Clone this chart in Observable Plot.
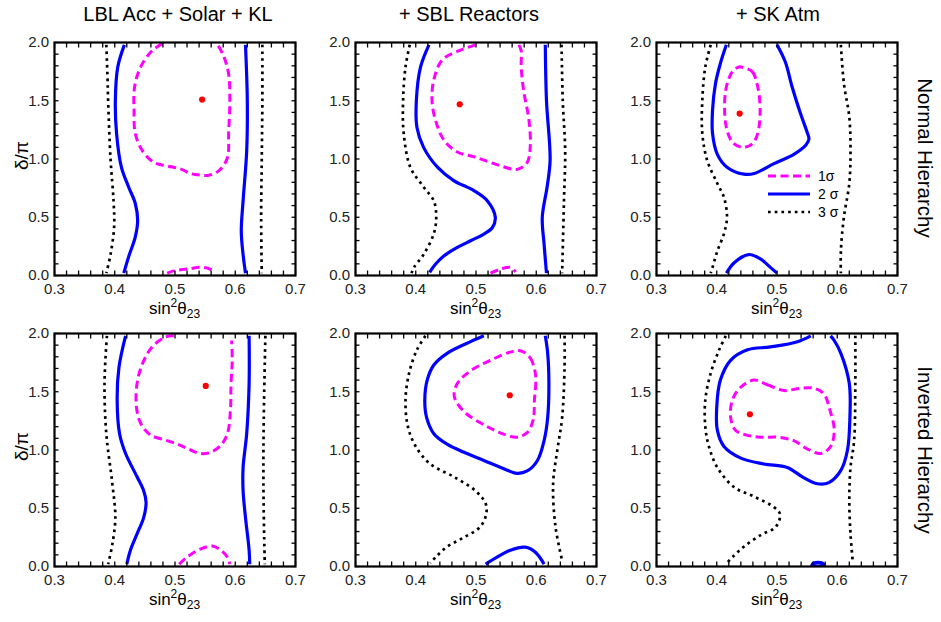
<!DOCTYPE html>
<html><head><meta charset="utf-8">
<script src="https://cdn.jsdelivr.net/npm/d3@7"></script>
<script src="https://cdn.jsdelivr.net/npm/@observablehq/plot@0.6"></script>
<style>
body{margin:0;background:#fff;}
#root{position:relative;width:941px;height:622px;overflow:hidden;background:#fff;font-family:"Liberation Sans",Arial,sans-serif;}
#root > svg, #root > figure{position:absolute;margin:0;}
#root g[aria-label$="tick-label"], #root g[aria-label$="tick-label"] text{font-size:15px !important;font-family:"Liberation Sans",Arial,sans-serif !important;}
</style></head>
<body><div id="root"></div>
<script>
// ---------- tick labels ----------
const xMajorTicks = [0.3, 0.4, 0.5, 0.6, 0.7];
const yMajorTicks = [0.0, 0.5, 1.0, 1.5, 2.0];
const xMinorStep = 0.02, yMinorStep = 0.1;
const colTitles = ["LBL Acc + Solar + KL", "+ SBL Reactors", "+ SK Atm"];
const rowTitles = ["Normal Hierarchy", "Inverted Hierarchy"];
const legendLabels = ["1σ", "2 σ", "3 σ"];

// ---------- Normal hierarchy, LBL Acc + Solar + KL ----------
const nh1_3s_left = [[0.386,1.98],[0.388,1.7],[0.389,1.5],[0.393,1.0],[0.398,0.64],[0.399,0.42],[0.393,0.18],[0.386,0.02]];
const nh1_3s_right = [[0.645,1.98],[0.645,1.5],[0.644,1.0],[0.643,0.5],[0.644,0.02]];
const nh1_2s_left = [[0.416,1.98],[0.405,1.79],[0.401,1.5],[0.403,1.22],[0.411,0.93],[0.423,0.76],[0.434,0.62],[0.438,0.47],[0.434,0.33],[0.423,0.16],[0.415,0.02]];
const nh1_2s_right = [[0.617,1.98],[0.620,1.5],[0.619,1.07],[0.613,0.64],[0.610,0.38],[0.613,0.18],[0.617,0.02]];
const nh1_1s_top = [[0.479,1.99],[0.462,1.93],[0.443,1.79],[0.433,1.62],[0.432,1.41],[0.434,1.22],[0.446,1.07],[0.465,0.97],[0.487,0.94],[0.509,0.915],[0.526,0.875],[0.542,0.862],[0.556,0.86],[0.573,0.90],[0.587,1.01],[0.589,1.22],[0.591,1.5],[0.589,1.73],[0.581,1.88],[0.570,1.99]];
const nh1_1s_bot = [[0.487,0.02],[0.498,0.04],[0.520,0.055],[0.542,0.07],[0.553,0.065],[0.567,0.03]];
const nh1_best = [0.545, 1.51];

// ---------- Normal hierarchy, + SBL Reactors ----------
const nh2_3s_left = [[0.390,1.98],[0.383,1.79],[0.379,1.5],[0.380,1.22],[0.391,0.93],[0.413,0.76],[0.430,0.64],[0.434,0.5],[0.430,0.36],[0.413,0.18],[0.397,0.07],[0.393,0.02]];
const nh2_3s_right = [[0.642,1.98],[0.644,1.5],[0.648,1.07],[0.646,0.64],[0.643,0.02]];
const nh2_2s_left = [[0.422,1.98],[0.408,1.79],[0.401,1.5],[0.402,1.27],[0.413,1.10],[0.436,0.93],[0.463,0.815],[0.496,0.73],[0.519,0.64],[0.532,0.5],[0.527,0.41],[0.513,0.356],[0.491,0.298],[0.469,0.241],[0.447,0.169],[0.433,0.098],[0.423,0.026]];
const nh2_2s_right = [[0.615,1.98],[0.617,1.5],[0.623,0.99],[0.618,0.76],[0.610,0.5],[0.613,0.27],[0.617,0.02]];
const nh2_1s_top = [[0.499,1.98],[0.472,1.93],[0.444,1.85],[0.430,1.68],[0.427,1.5],[0.433,1.33],[0.447,1.16],[0.469,1.06],[0.496,1.02],[0.530,0.96],[0.563,0.91],[0.571,0.915],[0.585,0.97],[0.590,1.10],[0.588,1.33],[0.579,1.59],[0.575,1.79],[0.575,1.93],[0.571,1.98]];
const nh2_1s_bot = [[0.524,0.02],[0.541,0.055],[0.557,0.07],[0.566,0.03]];
const nh2_best = [0.473, 1.47];

// ---------- Normal hierarchy, + SK Atm ----------
const nh3_3s_left = [[0.390,1.98],[0.381,1.79],[0.376,1.5],[0.376,1.22],[0.384,0.99],[0.401,0.79],[0.412,0.67],[0.417,0.5],[0.412,0.36],[0.401,0.21],[0.393,0.07],[0.390,0.02]];
const nh3_3s_right = [[0.606,1.98],[0.611,1.65],[0.620,1.36],[0.622,1.07],[0.620,0.79],[0.611,0.5],[0.606,0.21],[0.606,0.02]];
const nh3_2s_top = [[0.416,1.98],[0.406,1.82],[0.398,1.65],[0.393,1.42],[0.393,1.22],[0.401,1.04],[0.417,0.93],[0.445,0.87],[0.462,0.875],[0.495,0.96],[0.528,1.04],[0.548,1.12],[0.553,1.17],[0.550,1.23],[0.539,1.39],[0.525,1.62],[0.514,1.83],[0.500,1.98]];
const nh3_2s_bot = [[0.416,0.02],[0.429,0.11],[0.453,0.18],[0.473,0.14],[0.489,0.07],[0.500,0.02]];
const nh3_1s = [[0.444,1.785],[0.459,1.75],[0.468,1.62],[0.472,1.42],[0.468,1.22],[0.459,1.13],[0.442,1.10],[0.426,1.145],[0.416,1.27],[0.413,1.45],[0.416,1.62],[0.426,1.75],[0.437,1.79]];
const nh3_best = [0.438, 1.39];

// ---------- Inverted hierarchy, LBL Acc + Solar + KL ----------
const ih1_3s_left = [[0.387,1.98],[0.383,1.57],[0.386,1.14],[0.396,0.71],[0.401,0.42],[0.396,0.19],[0.389,0.02]];
const ih1_3s_right = [[0.650,1.98],[0.647,1.14],[0.647,0.57],[0.649,0.02]];
const ih1_2s_left = [[0.418,1.98],[0.407,1.71],[0.404,1.43],[0.408,1.14],[0.418,0.97],[0.437,0.77],[0.448,0.65],[0.452,0.55],[0.448,0.42],[0.437,0.28],[0.426,0.14],[0.420,0.02]];
const ih1_2s_right = [[0.623,1.98],[0.623,1.57],[0.619,1.14],[0.613,0.85],[0.613,0.65],[0.617,0.42],[0.623,0.14],[0.624,0.02]];
const ih1_1s_top = [[0.498,1.98],[0.484,1.97],[0.462,1.885],[0.446,1.74],[0.437,1.57],[0.436,1.37],[0.443,1.23],[0.459,1.13],[0.487,1.08],[0.509,1.04],[0.526,1.00],[0.542,0.97],[0.559,0.98],[0.576,1.04],[0.587,1.14],[0.592,1.34],[0.593,1.57],[0.595,1.77],[0.594,1.94]];
const ih1_1s_bot = [[0.507,0.02],[0.520,0.08],[0.542,0.15],[0.562,0.175],[0.576,0.14],[0.587,0.08],[0.591,0.02]];
const ih1_best = [0.551, 1.55];

// ---------- Inverted hierarchy, + SBL Reactors ----------
const ih2_3s_left = [[0.416,1.98],[0.402,1.86],[0.389,1.66],[0.383,1.43],[0.387,1.20],[0.400,1.03],[0.424,0.88],[0.463,0.77],[0.499,0.65],[0.516,0.54],[0.517,0.45],[0.507,0.34],[0.480,0.25],[0.452,0.17],[0.433,0.08],[0.424,0.03]];
const ih2_3s_right = [[0.647,1.98],[0.647,1.71],[0.643,1.28],[0.635,1.00],[0.628,0.71],[0.632,0.34],[0.643,0.05]];
const ih2_2s_top = [[0.513,1.98],[0.491,1.93],[0.452,1.83],[0.430,1.73],[0.419,1.60],[0.415,1.43],[0.418,1.28],[0.430,1.14],[0.452,1.05],[0.480,0.98],[0.513,0.91],[0.546,0.84],[0.568,0.80],[0.585,0.82],[0.602,0.91],[0.613,1.08],[0.619,1.28],[0.621,1.57],[0.619,1.83],[0.615,1.98]];
const ih2_2s_bot = [[0.516,0.02],[0.535,0.08],[0.557,0.14],[0.582,0.166],[0.599,0.12],[0.613,0.02]];
const ih2_1s = [[0.575,1.85],[0.590,1.79],[0.599,1.64],[0.597,1.43],[0.595,1.26],[0.585,1.15],[0.568,1.11],[0.549,1.13],[0.519,1.20],[0.480,1.33],[0.464,1.46],[0.469,1.57],[0.491,1.68],[0.524,1.77],[0.557,1.84]];
const ih2_best = [0.556, 1.47];

// ---------- Inverted hierarchy, + SK Atm ----------
const ih3_3s_left = [[0.415,1.98],[0.404,1.86],[0.390,1.66],[0.381,1.43],[0.381,1.20],[0.387,1.03],[0.401,0.85],[0.429,0.68],[0.462,0.60],[0.495,0.51],[0.505,0.45],[0.498,0.34],[0.473,0.27],[0.445,0.17],[0.426,0.08],[0.417,0.03]];
const ih3_3s_right = [[0.630,1.98],[0.630,1.57],[0.628,1.08],[0.622,0.85],[0.620,0.57],[0.622,0.28],[0.626,0.03]];
const ih3_2s_top = [[0.556,1.98],[0.534,1.93],[0.489,1.885],[0.451,1.86],[0.423,1.77],[0.406,1.60],[0.400,1.37],[0.401,1.17],[0.412,1.03],[0.440,0.93],[0.478,0.88],[0.517,0.85],[0.542,0.77],[0.567,0.71],[0.586,0.72],[0.606,0.825],[0.617,1.00],[0.621,1.28],[0.620,1.57],[0.606,1.83],[0.595,1.94],[0.589,1.98]];
const ih3_2s_bot = [[0.558,0.01],[0.561,0.03],[0.575,0.03],[0.578,0.01]];
const ih3_1s = [[0.462,1.60],[0.484,1.56],[0.512,1.51],[0.539,1.53],[0.561,1.53],[0.578,1.48],[0.588,1.34],[0.595,1.17],[0.589,1.03],[0.573,0.97],[0.550,1.01],[0.528,1.08],[0.501,1.11],[0.473,1.11],[0.448,1.13],[0.431,1.17],[0.423,1.28],[0.426,1.43],[0.440,1.54]];
const ih3_best = [0.455, 1.307];

// ---------- assembly ----------
const panels = [
  {row:0, col:0, best:nh1_best, contours:[[nh1_3s_left,3],[nh1_3s_right,3],[nh1_2s_left,2],[nh1_2s_right,2],[nh1_1s_top,1],[nh1_1s_bot,1]]},
  {row:0, col:1, best:nh2_best, contours:[[nh2_3s_left,3],[nh2_3s_right,3],[nh2_2s_left,2],[nh2_2s_right,2],[nh2_1s_top,1],[nh2_1s_bot,1]]},
  {row:0, col:2, best:nh3_best, contours:[[nh3_3s_left,3],[nh3_3s_right,3],[nh3_2s_top,2],[nh3_2s_bot,2],[nh3_1s,1,true]]},
  {row:1, col:0, best:ih1_best, contours:[[ih1_3s_left,3],[ih1_3s_right,3],[ih1_2s_left,2],[ih1_2s_right,2],[ih1_1s_top,1],[ih1_1s_bot,1]]},
  {row:1, col:1, best:ih2_best, contours:[[ih2_3s_left,3],[ih2_3s_right,3],[ih2_2s_top,2],[ih2_2s_bot,2],[ih2_1s,1,true]]},
  {row:1, col:2, best:ih3_best, contours:[[ih3_3s_left,3],[ih3_3s_right,3],[ih3_2s_top,2],[ih3_2s_bot,2,true],[ih3_1s,1,true]]}
];

const levelStyle = {
  1: {stroke:"#ff00ff", strokeWidth:3, strokeDasharray:"8,4.5"},
  2: {stroke:"#0000ff", strokeWidth:3.2},
  3: {stroke:"#000000", strokeWidth:2.7, strokeDasharray:"2.7,4"}
};

const FONT = "'Liberation Sans', Arial, Helvetica, sans-serif";
const frameLeft = [54, 355, 656], frameTop = [42, 333];
const FW = 241, FH = 233, ML = 50, MR = 12, MT = 10, MB = 30;

const xTicks = d3.range(0, Math.round((xMajorTicks[4]-xMajorTicks[0])/xMinorStep)+1).map(i => +(xMajorTicks[0] + i*xMinorStep).toFixed(3));
const yTicks = d3.range(0, Math.round((yMajorTicks[4]-yMajorTicks[0])/yMinorStep)+1).map(i => +(yMajorTicks[0] + i*yMinorStep).toFixed(3));
const isMajor = (v, majors) => majors.some(m => Math.abs(m - v) < 1e-6);
const fmtX = v => isMajor(v, xMajorTicks) ? v.toFixed(1) : "";
const fmtY = v => isMajor(v, yMajorTicks) ? v.toFixed(1) : "";

const root = document.getElementById("root");

for (const p of panels) {
  const marks = p.contours.map(([pts, lvl, closed]) =>
    Plot.line(pts, {x: d => d[0], y: d => d[1], curve: closed ? "catmull-rom-closed" : "catmull-rom",
      strokeLinecap: "butt", strokeLinejoin: "round", clip: true, ...levelStyle[lvl]}));
  marks.push(Plot.dot([p.best], {x: d => d[0], y: d => d[1], r: 3.1, fill: "#ff0000", stroke: "none"}));
  marks.push(Plot.axisX(xTicks, {anchor: "bottom", tickSize: -4.5, tickPadding: 12, tickFormat: fmtX, fontSize: 15, fill: "#222", label: null, strokeWidth: 1.3}));
  marks.push(Plot.axisX(xTicks, {anchor: "top", tickSize: -4.5, tickFormat: () => "", label: null, strokeWidth: 1.3}));
  marks.push(Plot.axisY(yTicks, {anchor: "left", tickSize: -4.5, tickPadding: 10, tickFormat: fmtY, fontSize: 15, fill: "#222", label: null, strokeWidth: 1.3}));
  marks.push(Plot.axisY(yTicks, {anchor: "right", tickSize: -4.5, tickFormat: () => "", label: null, strokeWidth: 1.3}));
  marks.push(Plot.frame({stroke: "#000", strokeWidth: 2.2}));
  const chart = Plot.plot({
    width: ML + FW + MR, height: MT + FH + MB,
    marginLeft: ML, marginRight: MR, marginTop: MT, marginBottom: MB,
    x: {domain: [xMajorTicks[0], xMajorTicks[4]], axis: null},
    y: {domain: [yMajorTicks[0], yMajorTicks[4]], axis: null},
    style: {fontFamily: FONT, fontSize: "15px", color: "#000", background: "transparent", overflow: "visible"},
    marks
  });
  chart.style.left = (frameLeft[p.col] - ML) + "px";
  chart.style.top = (frameTop[p.row] - MT) + "px";
  root.appendChild(chart);
}

// ---------- overlay text & legend ----------
const ov = d3.select(root).append("svg")
  .attr("width", 941).attr("height", 622)
  .style("left", "0px").style("top", "0px")
  .style("font-family", FONT).style("pointer-events", "none");

const titleX = [178, 469, 778];
colTitles.forEach((t, i) => {
  ov.append("text").attr("x", titleX[i]).attr("y", 21).attr("text-anchor", "middle")
    .attr("font-size", 20).text(t);
});

const rowCenter = [158, 450];
rowTitles.forEach((t, i) => {
  ov.append("text").attr("transform", `translate(918,${rowCenter[i]}) rotate(90)`)
    .attr("text-anchor", "middle").attr("font-size", 20.5).text(t);
});

// y-axis label δ/π
[0, 1].forEach(r => {
  ov.append("text").attr("transform", `translate(28,${frameTop[r] + FH/2 - 3}) rotate(-90)`)
    .attr("text-anchor", "middle").attr("font-size", 19).text("δ/π");
});

// x-axis labels sin²θ23
const xLabBase = [314, 605];
[0, 1].forEach(r => frameLeft.forEach(fl => {
  const t = ov.append("text").attr("x", fl + FW/2).attr("y", xLabBase[r]).attr("text-anchor", "middle").attr("font-size", 17);
  t.append("tspan").text("sin");
  t.append("tspan").attr("dy", -7).attr("font-size", 12).text("2");
  t.append("tspan").attr("dy", 7).text("θ");
  t.append("tspan").attr("dy", 4).attr("font-size", 12).text("23");
}));

// legend in NH / + SK Atm panel
const legY = [176, 194, 212];
legendLabels.forEach((lab, i) => {
  const st = levelStyle[i + 1];
  ov.append("line").attr("x1", 768).attr("x2", 810).attr("y1", legY[i]).attr("y2", legY[i])
    .attr("stroke", st.stroke).attr("stroke-width", st.strokeWidth)
    .attr("stroke-dasharray", st.strokeDasharray || null);
  ov.append("text").attr("x", 818).attr("y", legY[i] + 5).attr("font-size", 14).text(lab);
});
</script>
</body></html>
